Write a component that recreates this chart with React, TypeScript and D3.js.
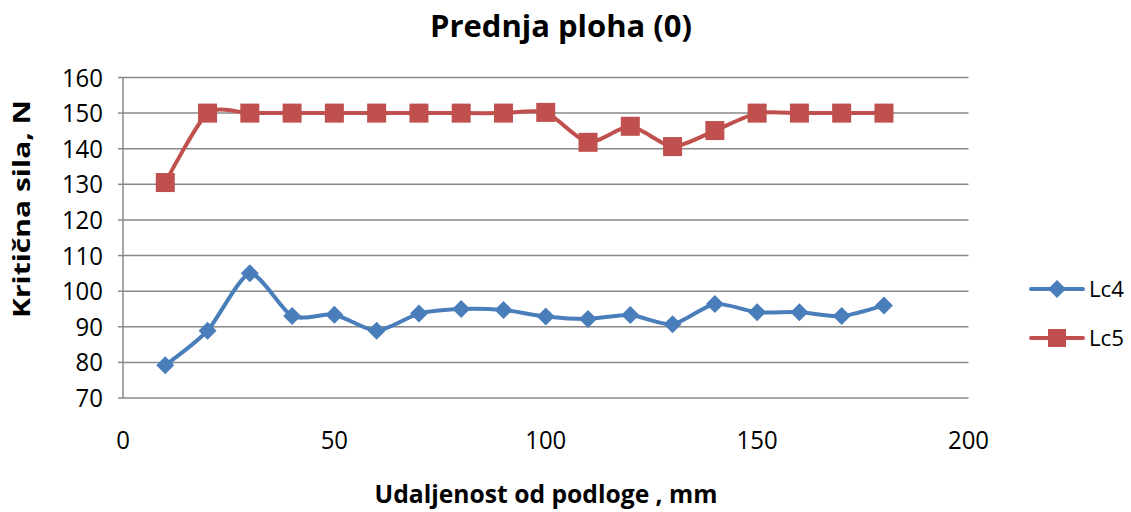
import React from "react";
import * as d3 from "d3";

const distances = [10, 20, 30, 40, 50, 60, 70, 80, 90, 100, 110, 120, 130, 140, 150, 160, 170, 180];
const lc4 = [79.2, 88.9, 105, 93, 93.4, 88.9, 93.7, 95, 94.7, 92.9, 92.2, 93.3, 90.7, 96.4, 94.1, 94.1, 93, 96];
const lc5 = [130.5, 150, 150, 150, 150, 150, 150, 150, 150, 150.2, 141.8, 146.3, 140.6, 145.1, 150, 150, 150, 150];
const xTicks = [0, 50, 100, 150, 200];
const yTicks = [70, 80, 90, 100, 110, 120, 130, 140, 150, 160];
const seriesNames = ["Lc4", "Lc5"];

const W = 1131, H = 512;
const L = 123, R = 968.5, T = 77.5, B = 398;
const FONT = "'Open Sans', 'Liberation Sans', sans-serif";
const BLUE = "#4a7ebb";
const RED = "#c0504d";
const GRID = "#888888";

export default function App() {
  const x = d3.scaleLinear().domain([0, 200]).range([L, R]);
  const y = d3.scaleLinear().domain([70, 160]).range([B, T]);
  const line = d3
    .line<number>()
    .x((_, i) => x(distances[i]))
    .y((d) => y(d))
    .curve(d3.curveCardinal.tension(0.3));

  const diamond = (cx: number, cy: number, r: number) =>
    `M${cx},${cy - r}L${cx + r},${cy}L${cx},${cy + r}L${cx - r},${cy}Z`;

  return (
    <svg width={W} height={H} style={{ position: "absolute", left: 0, top: 0, background: "#fff" }}>
      <rect x={0} y={0} width={W} height={H} fill="#fff" />
      <text x={561} y={37} textAnchor="middle" fontFamily={FONT} fontWeight="bold" fontSize={30}
        textLength={262} lengthAdjust="spacingAndGlyphs" fill="#000">Prednja ploha (0)</text>

      {yTicks.map((t) => (
        <g key={t}>
          {t !== 70 && <line x1={L} x2={R} y1={y(t)} y2={y(t)} stroke={GRID} strokeWidth={1.5} />}
          <line x1={L - 5} x2={L} y1={y(t)} y2={y(t)} stroke={GRID} strokeWidth={1.5} />
          <text x={103} y={y(t) + 9} textAnchor="end" fontFamily={FONT} fontSize={25}
            textLength={String(t).length * 13.7} lengthAdjust="spacingAndGlyphs" fill="#000">{t}</text>
        </g>
      ))}
      <line x1={L} x2={L} y1={T} y2={B} stroke={GRID} strokeWidth={1.5} />
      <line x1={L} x2={R} y1={B} y2={B} stroke={GRID} strokeWidth={1.5} />

      {xTicks.map((t) => (
        <text key={t} x={x(t)} y={449} textAnchor="middle" fontFamily={FONT} fontSize={25}
          fill="#000" textLength={String(t).length * 13.7} lengthAdjust="spacingAndGlyphs">{t}</text>
      ))}

      <text x={546} y={503} textAnchor="middle" fontFamily={FONT} fontWeight="bold" fontSize={25}
        textLength={343} lengthAdjust="spacingAndGlyphs" fill="#000">Udaljenost od podloge , mm</text>
      <text transform={`translate(30,209) rotate(-90)`} textAnchor="middle" fontFamily={FONT}
        fontWeight="bold" fontSize={23} textLength={218} lengthAdjust="spacingAndGlyphs" fill="#000">Kritična sila, N</text>

      <path d={line(lc4) || ""} fill="none" stroke={BLUE} strokeWidth={4} strokeLinejoin="round" />
      {lc4.map((v, i) => (
        <path key={i} d={diamond(x(distances[i]), y(v), 9)} fill={BLUE} />
      ))}
      <path d={line(lc5) || ""} fill="none" stroke={RED} strokeWidth={4} strokeLinejoin="round" />
      {lc5.map((v, i) => (
        <rect key={i} x={x(distances[i]) - 9.5} y={y(v) - 9.5} width={19} height={19} fill={RED} />
      ))}

      {seriesNames.map((n, i) => {
        const ly = 289 + i * 49;
        const c = i === 0 ? BLUE : RED;
        return (
          <g key={n}>
            <line x1={1031} x2={1083} y1={ly} y2={ly} stroke={c} strokeWidth={4} strokeLinecap="round" />
            {i === 0 ? (
              <path d={diamond(1057, ly, 9)} fill={c} />
            ) : (
              <rect x={1048} y={ly - 9} width={18} height={18} fill={c} />
            )}
            <text x={1089} y={ly + 8} fontFamily={FONT} fontSize={22} fill="#000"
              textLength={35} lengthAdjust="spacingAndGlyphs">{n}</text>
          </g>
        );
      })}
    </svg>
  );
}
